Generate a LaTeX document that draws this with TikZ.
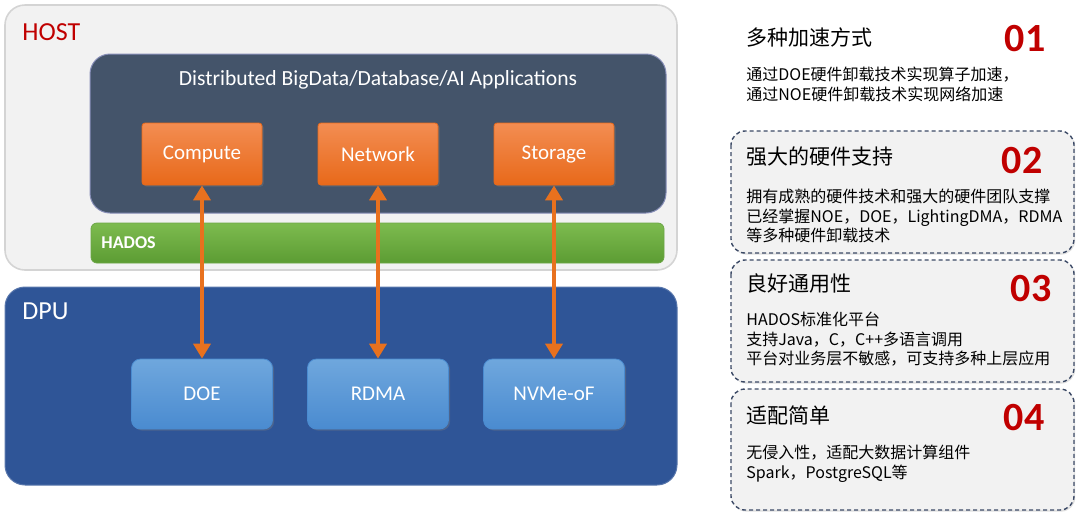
\documentclass[tikz,border=0pt]{standalone}
\usepackage{fontspec}
\setmainfont{Carlito}
\newfontfamily\cjk{Noto Sans CJK SC}
\usepackage{xcolor}
\usetikzlibrary{positioning,arrows.meta,shadows}

\definecolor{hostgray}{HTML}{F2F2F2}
\definecolor{hostline}{HTML}{D4D4D4}
\definecolor{appslate}{HTML}{44546A}
\definecolor{orangetop}{HTML}{F38D52}
\definecolor{orangebot}{HTML}{E8691A}
\definecolor{greentop}{HTML}{7DBB4F}
\definecolor{greenbot}{HTML}{5C9C33}
\definecolor{dpublue}{HTML}{2F5597}
\definecolor{chiptop}{HTML}{6FA7DD}
\definecolor{chipbot}{HTML}{4A8BD0}
\definecolor{linkorange}{HTML}{E8711E}
\definecolor{numred}{HTML}{C00000}
\definecolor{dashnavy}{HTML}{3C4A66}

\begin{document}
\begin{tikzpicture}[x=0.5pt, y=-0.5pt,
  appbox/.style={rectangle, rounded corners=1.5pt, draw=orangebot, line width=0.4pt,
    top color=orangetop, bottom color=orangebot, minimum width=60pt, minimum height=31pt,
    text=white, font=\fontsize{10.5}{12}\selectfont,
    drop shadow={shadow xshift=0.8pt, shadow yshift=-0.8pt, opacity=0.35}},
  chipbox/.style={rectangle, rounded corners=4.5pt, draw=chipbot, line width=0.4pt,
    top color=chiptop, bottom color=chipbot, minimum width=70.5pt, minimum height=35pt,
    text=white, font=\fontsize{10.5}{12}\selectfont,
    drop shadow={shadow xshift=0.8pt, shadow yshift=-0.8pt, opacity=0.35}},
  link/.style={draw=linkorange, line width=2pt,
    {Triangle[width=8.5pt,length=7.5pt]}-{Triangle[width=8.5pt,length=7.5pt]}},
  layerlabel/.style={anchor=west, inner sep=0pt, font=\fontsize{13}{15}\selectfont},
  featbox/.style={draw=dashnavy, line width=0.7pt, dash pattern=on 2pt off 1.5pt,
    fill=hostgray, rounded corners=7pt,
    drop shadow={shadow xshift=0.6pt, shadow yshift=-0.8pt, opacity=0.25}},
  feattitle/.style={anchor=west, inner sep=0pt, font=\cjk\fontsize{10.5}{12}\selectfont},
  featbody/.style={anchor=north west, inner sep=0pt, align=left,
    font=\cjk\fontsize{8}{9.6}\selectfont},
  featnum/.style={inner sep=0pt, text=numred, font=\bfseries\fontsize{20}{24}\selectfont}]
  \useasboundingbox (0,0) rectangle (1080,516);

  % HOST layer
  \draw[fill=hostgray, draw=hostline, line width=0.8pt, rounded corners=10pt] (5,5) rectangle (677,270);
  \node[layerlabel, text=numred] (hostlbl) at (22,32) {HOST};
  \draw[fill=appslate, draw=appslate!80!blue!60, line width=0.5pt, rounded corners=10pt] (90,54) rectangle (666,213);
  \node[text=white, font=\fontsize{10.8}{12}\selectfont] (apptitle) at (378,80) {Distributed BigData/Database/AI Applications};
  \node[appbox] (compute) at (202,154) {Compute};
  \node[appbox] (network) at (378,154) {Network};
  \node[appbox] (storage) at (554,154) {Storage};

  % HADOS bar
  \draw[top color=greentop, bottom color=greenbot, draw=greenbot!90, line width=0.4pt, rounded corners=3pt] (91,223) rectangle (664,263);
  \node[anchor=west, inner sep=0pt, text=white, font=\bfseries\fontsize{9}{11}\selectfont] (hados) at (101,243) {HADOS};

  % DPU layer
  \draw[fill=dpublue, draw=dpublue!80!white, line width=0.5pt, rounded corners=10pt] (5,287) rectangle (677,485);
  \node[layerlabel, text=white] (dpulbl) at (22,311) {DPU};
  \node[chipbox] (doe) at (202,394) {DOE};
  \node[chipbox] (rdma) at (378,394) {RDMA};
  \node[chipbox] (nvmeof) at (554,394) {NVMe-oF};

  % Offload links
  \draw[link] (compute) -- (doe);
  \draw[link] (network) -- (rdma);
  \draw[link] (storage) -- (nvmeof);

  % Feature 01
  \node[feattitle] (t1) at (746,37) {多种加速方式};
  \node[featnum] (n1) at (1025,39) {01};
  \node[featbody] (b1) at (746,67) {通过DOE硬件卸载技术实现算子加速，\\通过NOE硬件卸载技术实现网络加速};

  % Feature 02
  \draw[featbox] (731,131) rectangle (1074,253);
  \node[feattitle] (t2) at (746,157) {强大的硬件支持};
  \node[featnum] (n2) at (1022,161) {02};
  \node[featbody] (b2) at (746,189) {拥有成熟的硬件技术和强大的硬件团队支撑\\已经掌握NOE，DOE，LightingDMA，RDMA\\等多种硬件卸载技术};

  % Feature 03
  \draw[featbox] (731,260) rectangle (1074,382);
  \node[feattitle] (t3) at (746,283) {良好通用性};
  \node[featnum] (n3) at (1031,289) {03};
  \node[featbody] (b3) at (746,312) {HADOS标准化平台\\支持Java，C，C++多语言调用\\平台对业务层不敏感，可支持多种上层应用};

  % Feature 04
  \draw[featbox] (731,389) rectangle (1074,510);
  \node[feattitle] (t4) at (746,415) {适配简单};
  \node[featnum] (n4) at (1024,418) {04};
  \node[featbody] (b4) at (746,445) {无侵入性，适配大数据计算组件\\Spark，PostgreSQL等};
\end{tikzpicture}
\end{document}
